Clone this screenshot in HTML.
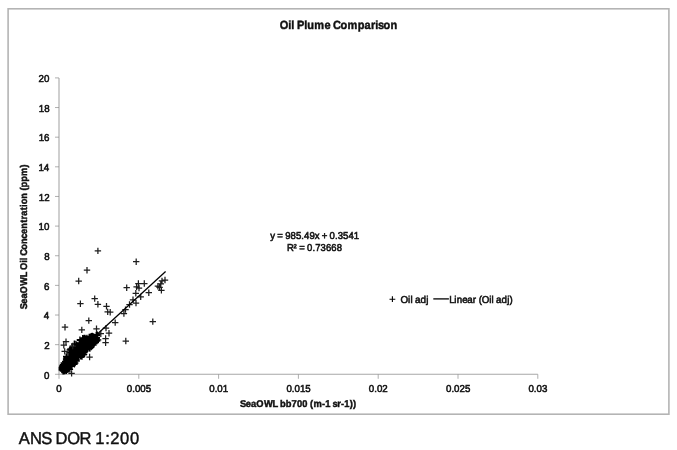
<!DOCTYPE html>
<html lang="en">
<head>
<meta charset="utf-8">
<title>Oil Plume Comparison</title>
<style>
html,body{margin:0;padding:0;background:#fff;}
body{width:677px;height:450px;overflow:hidden;font-family:"Liberation Sans",sans-serif;}
svg{display:block;filter:blur(0.4px);}
text{font-family:"Liberation Sans",sans-serif;fill:#111;stroke:#111;white-space:pre;text-rendering:geometricPrecision;}
.b{font-weight:bold;}
</style>
</head>
<body>
<svg width="677" height="450" viewBox="0 0 677 450">
<rect x="0" y="0" width="677" height="450" fill="#fff"/>
<rect x="8.1" y="8.8" width="660.8" height="405.4" fill="#fff" stroke="#b4b4b4" stroke-width="1.6"/>
<path d="M59.0 77.90V374.3H537.80" fill="none" stroke="#a8a8a8" stroke-width="1.1"/>
<path d="M55.0 374.30H59.0M55.0 344.66H59.0M55.0 315.02H59.0M55.0 285.38H59.0M55.0 255.74H59.0M55.0 226.10H59.0M55.0 196.46H59.0M55.0 166.82H59.0M55.0 137.18H59.0M55.0 107.54H59.0M55.0 77.90H59.0M59.00 374.3v4.5M138.80 374.3v4.5M218.60 374.3v4.5M298.40 374.3v4.5M378.20 374.3v4.5M458.00 374.3v4.5M537.80 374.3v4.5" fill="none" stroke="#8c8c8c" stroke-width="0.7"/>
<g><text transform="translate(0 378.50) scale(0.9706 1)" x="45.31" font-size="10.0" stroke-width="0.55">0</text><text transform="translate(0 348.86) scale(0.9706 1)" x="45.49" font-size="10.0" stroke-width="0.55">2</text><text transform="translate(0 319.22) scale(0.9706 1)" x="45.21" font-size="10.0" stroke-width="0.55">4</text><text transform="translate(0 289.58) scale(0.9706 1)" x="45.41" font-size="10.0" stroke-width="0.55">6</text><text transform="translate(0 259.94) scale(0.9706 1)" x="45.47" font-size="10.0" stroke-width="0.55">8</text><text transform="translate(0 230.30) scale(0.9706 1)" x="39.75 45.31" font-size="10.0" stroke-width="0.55">10</text><text transform="translate(0 200.66) scale(0.9706 1)" x="39.93 45.49" font-size="10.0" stroke-width="0.55">12</text><text transform="translate(0 171.02) scale(0.9706 1)" x="39.65 45.21" font-size="10.0" stroke-width="0.55">14</text><text transform="translate(0 141.38) scale(0.9706 1)" x="39.85 45.41" font-size="10.0" stroke-width="0.55">16</text><text transform="translate(0 111.74) scale(0.9706 1)" x="39.91 45.47" font-size="10.0" stroke-width="0.55">18</text><text transform="translate(0 82.10) scale(0.9706 1)" x="39.75 45.31" font-size="10.0" stroke-width="0.55">20</text></g>
<g><text transform="translate(0 391.6) scale(0.9706 1)" x="58.01" font-size="10.0" stroke-width="0.55">0</text><text transform="translate(0 391.6) scale(0.9702 1)" x="130.73 136.29 139.06 144.63 150.19" font-size="10.0" stroke-width="0.55">0.005</text><text transform="translate(0 391.6) scale(0.9701 1)" x="215.70 221.26 224.04 229.60" font-size="10.0" stroke-width="0.55">0.01</text><text transform="translate(0 391.6) scale(0.9702 1)" x="295.22 300.78 303.56 309.12 314.68" font-size="10.0" stroke-width="0.55">0.015</text><text transform="translate(0 391.6) scale(0.9701 1)" x="380.20 385.76 388.53 394.10" font-size="10.0" stroke-width="0.55">0.02</text><text transform="translate(0 391.6) scale(0.9702 1)" x="459.72 465.28 468.05 473.62 479.18" font-size="10.0" stroke-width="0.55">0.025</text><text transform="translate(0 391.6) scale(0.9701 1)" x="544.68 550.24 553.02 558.58" font-size="10.0" stroke-width="0.55">0.03</text></g>
<path d="M66.3 364.8h6.4M69.5 361.6v6.4M59.6 370.1h6.4M62.8 366.9v6.4M73.8 350.9h6.4M77.0 347.7v6.4M72.7 355.2h6.4M75.9 352.0v6.4M59.0 367.8h6.4M62.2 364.6v6.4M60.0 367.8h6.4M63.2 364.6v6.4M69.7 358.2h6.4M72.9 355.0v6.4M63.2 362.0h6.4M66.4 358.8v6.4M77.4 356.3h6.4M80.6 353.1v6.4M68.7 355.6h6.4M71.9 352.4v6.4M92.7 340.1h6.4M95.9 336.9v6.4M65.2 363.3h6.4M68.4 360.1v6.4M65.8 363.1h6.4M69.0 359.9v6.4M85.4 345.8h6.4M88.6 342.6v6.4M77.8 355.6h6.4M81.0 352.4v6.4M67.9 357.0h6.4M71.1 353.8v6.4M59.4 367.8h6.4M62.6 364.6v6.4M62.8 362.7h6.4M66.0 359.5v6.4M66.0 356.3h6.4M69.2 353.1v6.4M75.7 345.5h6.4M78.9 342.3v6.4M84.4 345.6h6.4M87.6 342.4v6.4M80.3 347.8h6.4M83.5 344.6v6.4M73.4 361.0h6.4M76.6 357.8v6.4M88.0 342.1h6.4M91.2 338.9v6.4M92.9 338.1h6.4M96.1 334.9v6.4M60.6 363.0h6.4M63.8 359.8v6.4M61.4 368.6h6.4M64.6 365.4v6.4M72.0 363.0h6.4M75.2 359.8v6.4M83.1 347.2h6.4M86.3 344.0v6.4M75.2 354.6h6.4M78.4 351.4v6.4M80.2 344.7h6.4M83.4 341.5v6.4M76.0 344.3h6.4M79.2 341.1v6.4M86.4 342.0h6.4M89.6 338.8v6.4M91.2 337.8h6.4M94.4 334.6v6.4M59.4 368.4h6.4M62.6 365.2v6.4M80.4 349.2h6.4M83.6 346.0v6.4M68.3 354.4h6.4M71.5 351.2v6.4M79.0 353.9h6.4M82.2 350.7v6.4M61.8 366.1h6.4M65.0 362.9v6.4M60.5 371.2h6.4M63.7 368.0v6.4M60.8 368.5h6.4M64.0 365.3v6.4M63.9 356.5h6.4M67.1 353.3v6.4M59.8 370.3h6.4M63.0 367.1v6.4M70.5 352.3h6.4M73.7 349.1v6.4M85.5 345.7h6.4M88.7 342.5v6.4M69.3 353.9h6.4M72.5 350.7v6.4M67.4 361.2h6.4M70.6 358.0v6.4M63.5 365.6h6.4M66.7 362.4v6.4M63.5 358.2h6.4M66.7 355.0v6.4M64.4 363.2h6.4M67.6 360.0v6.4M58.6 367.7h6.4M61.8 364.5v6.4M74.9 353.9h6.4M78.1 350.7v6.4M91.6 339.3h6.4M94.8 336.1v6.4M77.0 343.0h6.4M80.2 339.8v6.4M79.4 351.7h6.4M82.6 348.5v6.4M83.8 349.6h6.4M87.0 346.4v6.4M68.6 351.2h6.4M71.8 348.0v6.4M68.8 364.0h6.4M72.0 360.8v6.4M59.4 369.5h6.4M62.6 366.3v6.4M59.5 368.1h6.4M62.7 364.9v6.4M66.8 362.9h6.4M70.0 359.7v6.4M59.3 369.0h6.4M62.5 365.8v6.4M60.2 367.2h6.4M63.4 364.0v6.4M67.6 360.9h6.4M70.8 357.7v6.4M76.8 352.2h6.4M80.0 349.0v6.4M67.0 362.9h6.4M70.2 359.7v6.4M67.6 366.4h6.4M70.8 363.2v6.4M93.5 340.5h6.4M96.7 337.3v6.4M71.2 352.8h6.4M74.4 349.6v6.4M60.2 367.3h6.4M63.4 364.1v6.4M66.9 359.0h6.4M70.1 355.8v6.4M61.6 366.9h6.4M64.8 363.7v6.4M73.5 357.4h6.4M76.7 354.2v6.4M58.9 369.8h6.4M62.1 366.6v6.4M73.5 351.0h6.4M76.7 347.8v6.4M80.2 347.3h6.4M83.4 344.1v6.4M61.7 368.7h6.4M64.9 365.5v6.4M83.4 344.4h6.4M86.6 341.2v6.4M66.5 361.9h6.4M69.7 358.7v6.4M93.1 340.5h6.4M96.3 337.3v6.4M85.5 339.8h6.4M88.7 336.6v6.4M82.0 347.2h6.4M85.2 344.0v6.4M67.3 365.6h6.4M70.5 362.4v6.4M58.9 369.5h6.4M62.1 366.3v6.4M64.3 363.4h6.4M67.5 360.2v6.4M80.0 352.7h6.4M83.2 349.5v6.4M90.8 339.9h6.4M94.0 336.7v6.4M93.2 340.1h6.4M96.4 336.9v6.4M63.2 362.9h6.4M66.4 359.7v6.4M63.4 364.6h6.4M66.6 361.4v6.4M77.2 353.0h6.4M80.4 349.8v6.4M89.1 342.9h6.4M92.3 339.7v6.4M78.4 343.4h6.4M81.6 340.2v6.4M84.6 348.7h6.4M87.8 345.5v6.4M89.6 342.8h6.4M92.8 339.6v6.4M83.9 345.2h6.4M87.1 342.0v6.4M62.0 361.3h6.4M65.2 358.1v6.4M84.2 342.1h6.4M87.4 338.9v6.4M92.5 341.7h6.4M95.7 338.5v6.4M68.7 365.6h6.4M71.9 362.4v6.4M81.4 348.0h6.4M84.6 344.8v6.4M61.3 367.5h6.4M64.5 364.3v6.4M89.4 341.8h6.4M92.6 338.6v6.4M85.8 342.3h6.4M89.0 339.1v6.4M92.9 338.5h6.4M96.1 335.3v6.4M74.3 346.9h6.4M77.5 343.7v6.4M60.9 367.4h6.4M64.1 364.2v6.4M78.3 346.5h6.4M81.5 343.3v6.4M70.0 363.8h6.4M73.2 360.6v6.4M62.9 359.0h6.4M66.1 355.8v6.4M64.1 362.2h6.4M67.3 359.0v6.4M75.7 354.8h6.4M78.9 351.6v6.4M64.3 360.8h6.4M67.5 357.6v6.4M89.6 341.8h6.4M92.8 338.6v6.4M67.3 352.9h6.4M70.5 349.7v6.4M89.3 342.2h6.4M92.5 339.0v6.4M69.5 362.7h6.4M72.7 359.5v6.4M73.6 348.9h6.4M76.8 345.7v6.4M73.3 359.6h6.4M76.5 356.4v6.4M62.2 365.5h6.4M65.4 362.3v6.4M58.6 368.9h6.4M61.8 365.7v6.4M71.4 351.5h6.4M74.6 348.3v6.4M81.4 343.4h6.4M84.6 340.2v6.4M73.1 351.2h6.4M76.3 348.0v6.4M74.5 352.1h6.4M77.7 348.9v6.4M74.7 348.3h6.4M77.9 345.1v6.4M64.0 361.9h6.4M67.2 358.7v6.4M72.7 344.0h6.4M75.9 340.8v6.4M89.7 339.9h6.4M92.9 336.7v6.4M70.3 351.0h6.4M73.5 347.8v6.4M72.9 348.7h6.4M76.1 345.5v6.4M80.0 342.1h6.4M83.2 338.9v6.4M71.6 356.9h6.4M74.8 353.7v6.4M91.0 339.2h6.4M94.2 336.0v6.4M91.1 340.2h6.4M94.3 337.0v6.4M91.1 342.5h6.4M94.3 339.3v6.4M86.4 344.4h6.4M89.6 341.2v6.4M70.3 358.4h6.4M73.5 355.2v6.4M59.6 367.8h6.4M62.8 364.6v6.4M79.1 350.2h6.4M82.3 347.0v6.4M83.9 346.7h6.4M87.1 343.5v6.4M81.0 345.6h6.4M84.2 342.4v6.4M78.7 355.2h6.4M81.9 352.0v6.4M92.3 342.0h6.4M95.5 338.8v6.4M63.1 367.7h6.4M66.3 364.5v6.4M71.9 352.6h6.4M75.1 349.4v6.4M93.3 339.3h6.4M96.5 336.1v6.4M69.9 353.7h6.4M73.1 350.5v6.4M73.0 351.1h6.4M76.2 347.9v6.4M66.1 363.6h6.4M69.3 360.4v6.4M81.3 352.4h6.4M84.5 349.2v6.4M70.2 357.1h6.4M73.4 353.9v6.4M58.8 367.7h6.4M62.0 364.5v6.4M72.9 360.9h6.4M76.1 357.7v6.4M59.5 367.6h6.4M62.7 364.4v6.4M92.5 340.3h6.4M95.7 337.1v6.4M59.1 369.0h6.4M62.3 365.8v6.4M83.7 345.1h6.4M86.9 341.9v6.4M69.6 359.9h6.4M72.8 356.7v6.4M89.7 341.9h6.4M92.9 338.7v6.4M61.3 364.0h6.4M64.5 360.8v6.4M90.0 338.2h6.4M93.2 335.0v6.4M60.0 365.9h6.4M63.2 362.7v6.4M59.3 367.3h6.4M62.5 364.1v6.4M59.6 365.8h6.4M62.8 362.6v6.4M90.9 338.3h6.4M94.1 335.1v6.4M59.8 364.6h6.4M63.0 361.4v6.4M87.1 345.1h6.4M90.3 341.9v6.4M70.7 351.8h6.4M73.9 348.6v6.4M90.4 342.8h6.4M93.6 339.6v6.4M64.5 366.2h6.4M67.7 363.0v6.4M63.7 367.0h6.4M66.9 363.8v6.4M60.4 367.5h6.4M63.6 364.3v6.4M62.7 365.5h6.4M65.9 362.3v6.4M65.9 358.3h6.4M69.1 355.1v6.4M65.2 369.2h6.4M68.4 366.0v6.4M72.4 356.3h6.4M75.6 353.1v6.4M58.8 369.6h6.4M62.0 366.4v6.4M64.0 369.9h6.4M67.2 366.7v6.4M74.3 352.6h6.4M77.5 349.4v6.4M62.3 366.2h6.4M65.5 363.0v6.4M60.3 368.3h6.4M63.5 365.1v6.4M72.2 348.3h6.4M75.4 345.1v6.4M86.2 341.0h6.4M89.4 337.8v6.4M79.8 351.4h6.4M83.0 348.2v6.4M93.0 337.8h6.4M96.2 334.6v6.4M80.6 354.5h6.4M83.8 351.3v6.4M77.7 344.6h6.4M80.9 341.4v6.4M59.3 368.9h6.4M62.5 365.7v6.4M60.8 371.0h6.4M64.0 367.8v6.4M64.2 365.9h6.4M67.4 362.7v6.4M61.6 371.1h6.4M64.8 367.9v6.4M87.8 344.9h6.4M91.0 341.7v6.4M79.1 347.4h6.4M82.3 344.2v6.4M65.3 365.1h6.4M68.5 361.9v6.4M70.9 359.0h6.4M74.1 355.8v6.4M64.4 366.6h6.4M67.6 363.4v6.4M92.0 341.7h6.4M95.2 338.5v6.4M63.9 362.3h6.4M67.1 359.1v6.4M92.2 339.1h6.4M95.4 335.9v6.4M58.6 369.7h6.4M61.8 366.5v6.4M68.2 352.3h6.4M71.4 349.1v6.4M62.6 365.2h6.4M65.8 362.0v6.4M72.6 358.5h6.4M75.8 355.3v6.4M60.0 367.5h6.4M63.2 364.3v6.4M68.8 358.9h6.4M72.0 355.7v6.4M65.7 361.6h6.4M68.9 358.4v6.4M63.5 359.3h6.4M66.7 356.1v6.4M82.5 343.9h6.4M85.7 340.7v6.4M78.6 346.1h6.4M81.8 342.9v6.4M68.5 351.0h6.4M71.7 347.8v6.4M61.3 365.4h6.4M64.5 362.2v6.4M59.1 366.0h6.4M62.3 362.8v6.4M86.2 346.7h6.4M89.4 343.5v6.4M81.8 343.1h6.4M85.0 339.9v6.4M85.2 346.7h6.4M88.4 343.5v6.4M72.6 359.4h6.4M75.8 356.2v6.4M86.2 345.4h6.4M89.4 342.2v6.4M75.6 357.7h6.4M78.8 354.5v6.4M80.1 343.2h6.4M83.3 340.0v6.4M63.4 365.8h6.4M66.6 362.6v6.4M67.5 359.8h6.4M70.7 356.6v6.4M60.3 368.8h6.4M63.5 365.6v6.4M77.4 342.9h6.4M80.6 339.7v6.4M77.3 346.4h6.4M80.5 343.2v6.4M58.6 367.5h6.4M61.8 364.3v6.4M84.5 344.7h6.4M87.7 341.5v6.4M73.7 345.0h6.4M76.9 341.8v6.4M78.7 356.4h6.4M81.9 353.2v6.4M64.1 365.8h6.4M67.3 362.6v6.4M59.7 367.4h6.4M62.9 364.2v6.4M62.7 370.4h6.4M65.9 367.2v6.4M82.0 351.1h6.4M85.2 347.9v6.4M68.2 357.5h6.4M71.4 354.3v6.4M71.6 350.6h6.4M74.8 347.4v6.4M76.9 340.4h6.4M80.1 337.2v6.4M78.0 351.6h6.4M81.2 348.4v6.4M64.1 364.1h6.4M67.3 360.9v6.4M82.2 344.8h6.4M85.4 341.6v6.4M58.7 370.1h6.4M61.9 366.9v6.4M59.4 367.6h6.4M62.6 364.4v6.4M80.0 354.8h6.4M83.2 351.6v6.4M79.3 346.5h6.4M82.5 343.3v6.4M71.1 362.1h6.4M74.3 358.9v6.4M71.2 364.4h6.4M74.4 361.2v6.4M62.6 369.9h6.4M65.8 366.7v6.4M92.8 339.5h6.4M96.0 336.3v6.4M70.9 355.1h6.4M74.1 351.9v6.4M85.5 347.2h6.4M88.7 344.0v6.4M64.6 361.5h6.4M67.8 358.3v6.4M62.9 366.7h6.4M66.1 363.5v6.4M75.5 349.1h6.4M78.7 345.9v6.4M61.1 365.2h6.4M64.3 362.0v6.4M60.9 368.1h6.4M64.1 364.9v6.4M88.5 339.5h6.4M91.7 336.3v6.4M80.5 348.6h6.4M83.7 345.4v6.4M71.9 355.0h6.4M75.1 351.8v6.4M72.1 354.3h6.4M75.3 351.1v6.4M70.6 354.8h6.4M73.8 351.6v6.4M66.9 362.5h6.4M70.1 359.3v6.4M66.0 361.1h6.4M69.2 357.9v6.4M82.5 346.1h6.4M85.7 342.9v6.4M86.4 348.1h6.4M89.6 344.9v6.4M80.9 354.2h6.4M84.1 351.0v6.4M89.2 341.0h6.4M92.4 337.8v6.4M68.6 363.1h6.4M71.8 359.9v6.4M93.7 337.7h6.4M96.9 334.5v6.4M69.8 353.9h6.4M73.0 350.7v6.4M64.8 364.3h6.4M68.0 361.1v6.4M86.2 344.0h6.4M89.4 340.8v6.4M65.1 365.2h6.4M68.3 362.0v6.4M64.5 361.3h6.4M67.7 358.1v6.4M72.8 355.6h6.4M76.0 352.4v6.4M91.7 341.3h6.4M94.9 338.1v6.4M88.4 343.3h6.4M91.6 340.1v6.4M89.7 338.5h6.4M92.9 335.3v6.4M91.0 337.7h6.4M94.2 334.5v6.4M59.2 367.3h6.4M62.4 364.1v6.4M81.7 340.2h6.4M84.9 337.0v6.4M78.1 351.6h6.4M81.3 348.4v6.4M65.1 365.1h6.4M68.3 361.9v6.4M60.8 364.2h6.4M64.0 361.0v6.4M65.5 362.3h6.4M68.7 359.1v6.4M82.0 349.6h6.4M85.2 346.4v6.4M78.5 347.9h6.4M81.7 344.7v6.4M65.6 357.0h6.4M68.8 353.8v6.4M61.8 364.4h6.4M65.0 361.2v6.4M61.6 367.6h6.4M64.8 364.4v6.4M72.3 356.5h6.4M75.5 353.3v6.4M93.6 338.1h6.4M96.8 334.9v6.4M62.4 365.4h6.4M65.6 362.2v6.4M60.0 366.9h6.4M63.2 363.7v6.4M63.7 364.9h6.4M66.9 361.7v6.4M64.3 359.0h6.4M67.5 355.8v6.4M82.5 342.9h6.4M85.7 339.7v6.4M73.3 356.3h6.4M76.5 353.1v6.4M68.0 357.7h6.4M71.2 354.5v6.4M64.8 363.6h6.4M68.0 360.4v6.4M92.3 340.8h6.4M95.5 337.6v6.4M77.4 353.9h6.4M80.6 350.7v6.4M89.8 336.1h6.4M93.0 332.9v6.4M72.1 354.8h6.4M75.3 351.6v6.4M90.2 345.1h6.4M93.4 341.9v6.4M91.1 336.9h6.4M94.3 333.7v6.4M71.8 357.7h6.4M75.0 354.5v6.4M94.2 334.7h6.4M97.4 331.5v6.4M76.7 350.5h6.4M79.9 347.3v6.4M81.4 339.6h6.4M84.6 336.4v6.4M59.8 371.2h6.4M63.0 368.0v6.4M81.4 338.0h6.4M84.6 334.8v6.4M81.0 337.9h6.4M84.2 334.7v6.4M76.7 339.6h6.4M79.9 336.4v6.4M79.6 338.6h6.4M82.8 335.4v6.4M93.7 337.5h6.4M96.9 334.3v6.4M66.2 361.0h6.4M69.4 357.8v6.4M68.8 365.3h6.4M72.0 362.1v6.4M72.9 359.4h6.4M76.1 356.2v6.4M65.9 352.2h6.4M69.1 349.0v6.4M82.8 348.4h6.4M86.0 345.2v6.4M76.0 349.0h6.4M79.2 345.8v6.4M88.1 347.0h6.4M91.3 343.8v6.4M68.3 350.0h6.4M71.5 346.8v6.4M65.8 366.0h6.4M69.0 362.8v6.4M63.2 370.7h6.4M66.4 367.5v6.4M63.1 356.4h6.4M66.3 353.2v6.4M91.2 341.7h6.4M94.4 338.5v6.4M92.6 342.6h6.4M95.8 339.4v6.4M85.3 340.1h6.4M88.5 336.9v6.4M71.2 343.8h6.4M74.4 340.6v6.4M67.8 357.5h6.4M71.0 354.3v6.4M93.9 341.0h6.4M97.1 337.8v6.4M88.2 336.2h6.4M91.4 333.0v6.4M71.1 344.0h6.4M74.3 340.8v6.4M91.2 343.4h6.4M94.4 340.2v6.4M86.0 336.9h6.4M89.2 333.7v6.4M92.1 341.0h6.4M95.3 337.8v6.4M69.9 357.0h6.4M73.1 353.8v6.4M67.2 350.0h6.4M70.4 346.8v6.4M58.9 368.7h6.4M62.1 365.5v6.4M93.0 335.1h6.4M96.2 331.9v6.4M93.6 335.3h6.4M96.8 332.1v6.4M73.2 350.9h6.4M76.4 347.7v6.4M87.5 344.1h6.4M90.7 340.9v6.4M79.9 338.7h6.4M83.1 335.5v6.4M86.7 348.6h6.4M89.9 345.4v6.4M66.6 349.8h6.4M69.8 346.6v6.4M69.4 359.0h6.4M72.6 355.8v6.4M67.3 349.0h6.4M70.5 345.8v6.4M83.8 338.0h6.4M87.0 334.8v6.4M80.4 351.1h6.4M83.6 347.9v6.4M82.1 343.6h6.4M85.3 340.4v6.4M78.3 343.3h6.4M81.5 340.1v6.4M66.7 369.4h6.4M69.9 366.2v6.4M78.8 356.5h6.4M82.0 353.3v6.4M76.1 353.6h6.4M79.3 350.4v6.4M94.9 339.8h6.4M98.1 336.6v6.4M89.0 336.0h6.4M92.2 332.8v6.4M62.3 364.3h6.4M65.5 361.1v6.4M92.5 338.0h6.4M95.7 334.8v6.4M67.1 358.1h6.4M70.3 354.9v6.4M79.5 338.1h6.4M82.7 334.9v6.4M63.0 356.9h6.4M66.2 353.7v6.4M81.6 337.9h6.4M84.8 334.7v6.4M82.6 338.7h6.4M85.8 335.5v6.4M87.2 336.6h6.4M90.4 333.4v6.4M71.9 347.1h6.4M75.1 343.9v6.4M63.8 356.4h6.4M67.0 353.2v6.4M68.8 347.8h6.4M72.0 344.6v6.4M70.6 358.2h6.4M73.8 355.0v6.4M70.8 349.9h6.4M74.0 346.7v6.4" fill="none" stroke="#000" stroke-width="1.3"/>
<path d="M94.7 250.9h6.4M97.9 247.7v6.4M83.8 270.2h6.4M87.0 267.0v6.4M75.5 281.0h6.4M78.7 277.8v6.4M133.0 261.7h6.4M136.2 258.5v6.4M123.5 287.7h6.4M126.7 284.5v6.4M91.5 298.6h6.4M94.7 295.4v6.4M77.2 303.7h6.4M80.4 300.5v6.4M94.7 304.3h6.4M97.9 301.1v6.4M103.3 306.3h6.4M106.5 303.1v6.4M104.5 311.9h6.4M107.7 308.7v6.4M107.0 312.2h6.4M110.2 309.0v6.4M122.3 309.6h6.4M125.5 306.4v6.4M120.7 313.5h6.4M123.9 310.3v6.4M85.6 320.6h6.4M88.8 317.4v6.4M112.0 322.6h6.4M115.2 319.4v6.4M61.8 327.2h6.4M65.0 324.0v6.4M78.6 329.9h6.4M81.8 326.7v6.4M93.3 328.8h6.4M96.5 325.6v6.4M102.8 328.1h6.4M106.0 324.9v6.4M161.8 280.0h6.4M165.0 276.8v6.4M158.8 280.9h6.4M162.0 277.7v6.4M157.6 283.9h6.4M160.8 280.7v6.4M154.7 286.2h6.4M157.9 283.0v6.4M156.4 287.4h6.4M159.6 284.2v6.4M158.2 290.4h6.4M161.4 287.2v6.4M141.1 283.5h6.4M144.3 280.3v6.4M135.2 283.5h6.4M138.4 280.3v6.4M133.4 286.8h6.4M136.6 283.6v6.4M135.8 288.0h6.4M139.0 284.8v6.4M132.6 293.3h6.4M135.8 290.1v6.4M145.6 292.7h6.4M148.8 289.5v6.4M137.5 296.9h6.4M140.7 293.7v6.4M129.8 299.8h6.4M133.0 296.6v6.4M132.8 303.1h6.4M136.0 299.9v6.4M126.3 304.5h6.4M129.5 301.3v6.4M149.6 321.6h6.4M152.8 318.4v6.4M105.8 333.2h6.4M109.0 330.0v6.4M97.6 333.7h6.4M100.8 330.5v6.4M102.4 338.5h6.4M105.6 335.3v6.4M102.4 342.7h6.4M105.6 339.5v6.4M122.6 341.0h6.4M125.8 337.8v6.4M62.8 341.7h6.4M66.0 338.5v6.4M60.6 345.2h6.4M63.8 342.0v6.4M61.5 351.4h6.4M64.7 348.2v6.4M69.5 346.0h6.4M72.7 342.8v6.4M86.4 357.0h6.4M89.6 353.8v6.4M68.4 373.4h6.4M71.6 370.2v6.4" fill="none" stroke="#1e1e1e" stroke-width="1.25"/>
<path d="M61.4 366.9L165.6 271.5" stroke="#000" stroke-width="1.3" fill="none"/>
<text class="b" transform="translate(0 28.8) scale(0.9241 1)" x="302.61 311.93 315.31 318.56 321.47 329.14 332.55 340.19 351.25 357.93 360.49 368.50 376.15 387.10 394.52 401.37 406.17 408.95 415.08 422.48" font-size="11.9" stroke-width="0.45">Oil Plume Comparison</text>
<text class="b" transform="translate(27.1 308.6) rotate(-90) scale(0.9340 1)" x="-0.82 5.21 10.81 16.30 24.38 33.49 38.77 41.39 49.02 51.78 54.43 56.50 63.04 69.08 74.72 79.90 85.48 91.80 95.47 99.43 105.24 108.84 111.61 117.65 123.57 126.32 129.73 135.76 141.98 151.03" font-size="9.8" stroke-width="0.45">SeaOWL Oil Concentration (ppm)</text>
<text class="b" transform="translate(0 406.8) scale(0.9515 1)" x="252.34 258.33 263.89 269.34 277.35 286.40 291.66 294.28 300.27 306.36 312.02 317.67 323.13 325.86 329.41 338.39 341.83 347.28 349.41 354.44 358.40 361.85 367.51 370.98" font-size="9.8" stroke-width="0.45">SeaOWL bb700 (m-1 sr-1))</text>
<text transform="translate(0 238.9) scale(0.9583 1)" x="281.97 286.85 289.35 294.90 297.58 303.21 308.85 314.46 317.28 322.92 328.42 333.19 335.69 341.24 343.92 349.53 352.36 357.99 363.63 369.26" font-size="10.0" stroke-width="0.55">y = 985.49x + 0.3541</text>
<text transform="translate(0 250.7) scale(0.9467 1)" x="303.18 310.07 313.51 316.05 321.65 324.38 330.04 332.92 338.63 344.33 350.03 355.73" font-size="10.0" stroke-width="0.55">R² = 0.73668</text>
<path d="M389.5 299.2h5.8M392.4 296.3v5.8" stroke="#000" stroke-width="1.1" fill="none"/>
<text transform="translate(0 302.9) scale(0.9851 1)" x="406.68 414.28 416.76 418.95 421.37 426.79 432.60" font-size="10.0" stroke-width="0.55">Oil adj</text>
<path d="M433.3 298.9H448.9" stroke="#000" stroke-width="1.3" fill="none"/>
<text transform="translate(0 302.9) scale(0.9708 1)" x="462.72 467.96 470.43 476.04 481.40 487.05 490.48 493.11 496.18 503.85 506.36 508.59 511.06 516.57 522.43 524.86" font-size="10.0" stroke-width="0.55">Linear (Oil adj)</text>
<text transform="translate(0 443.65) scale(0.9667 1)" x="19.29 31.06 42.58 52.76 57.37 69.67 82.19 93.68 98.63 108.75 114.11 124.24 134.38" font-size="17.1" stroke-width="0.45">ANS DOR 1:200</text>
</svg>
</body>
</html>
